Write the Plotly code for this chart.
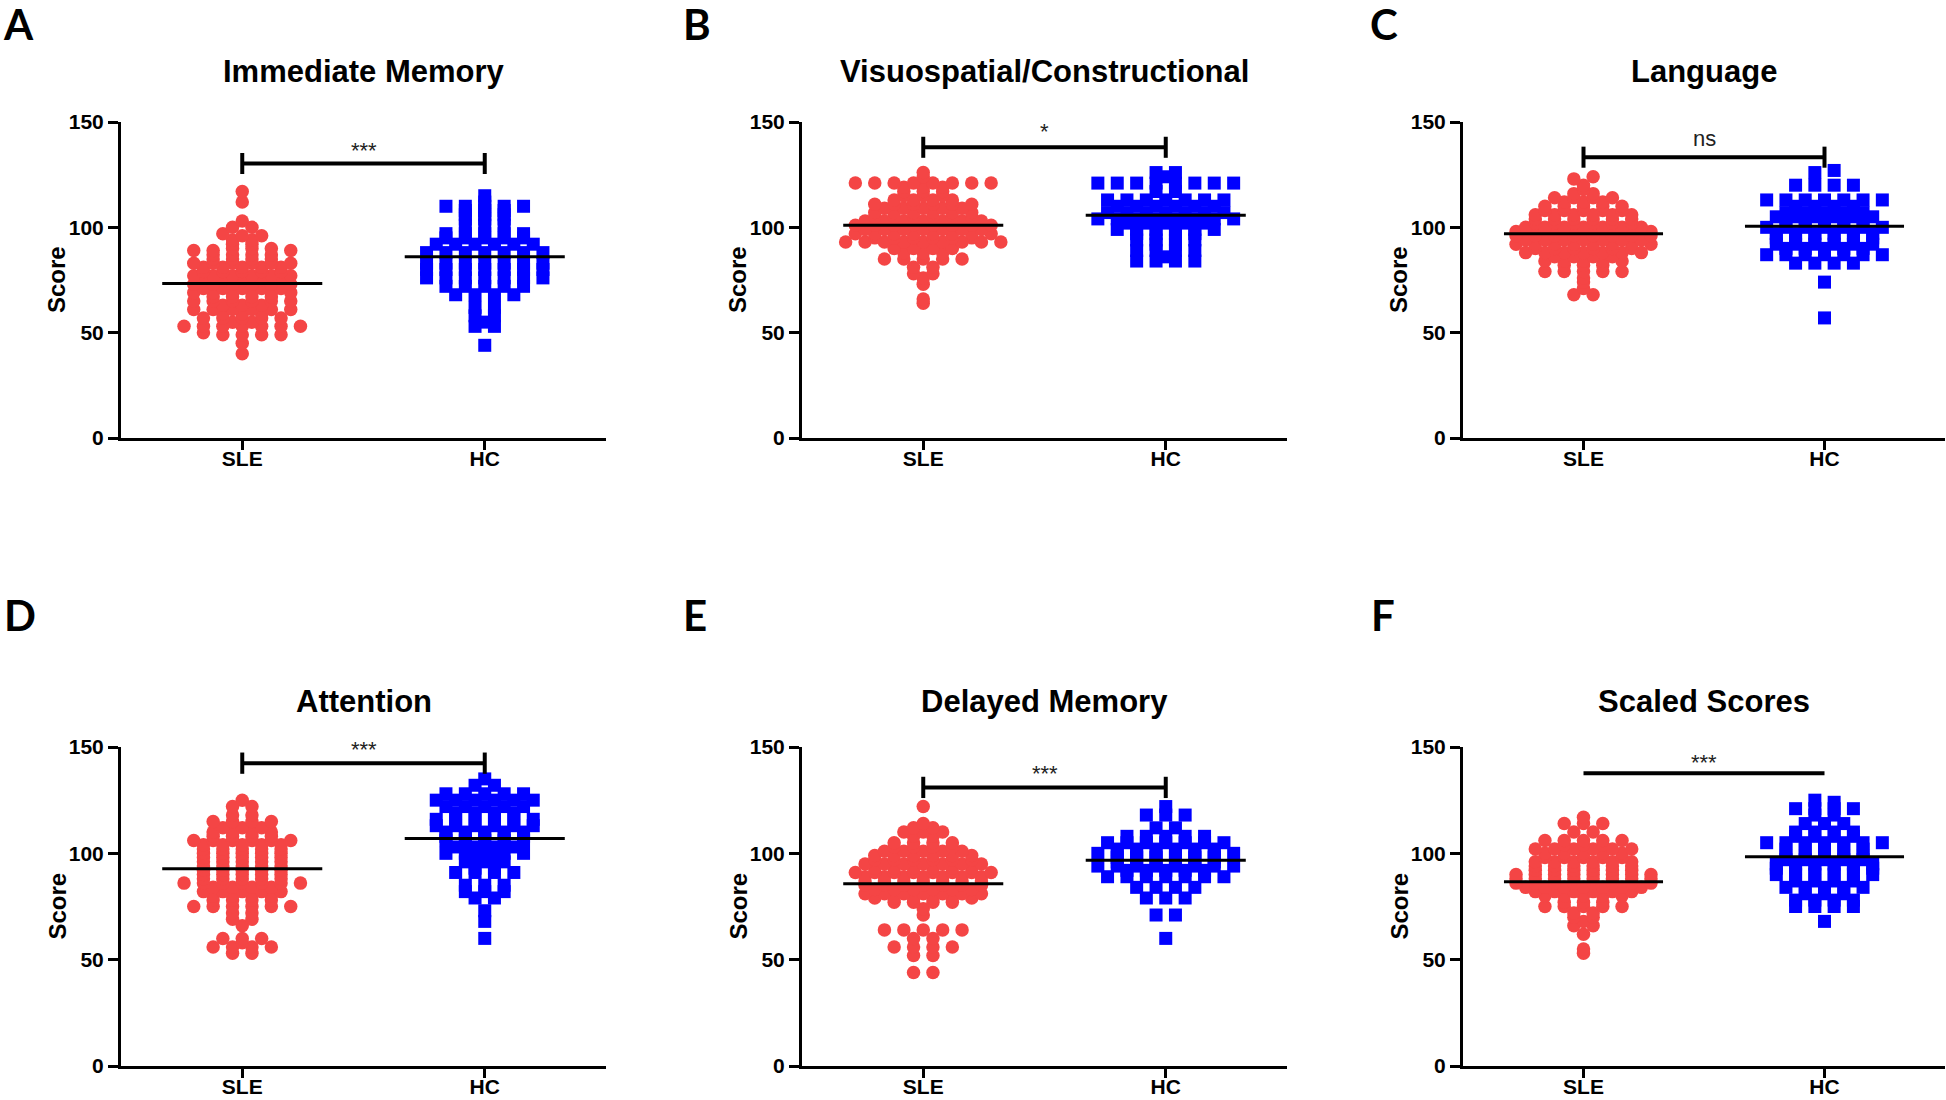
import plotly.graph_objects as go

# ---------------- data ----------------
panel_letters = ["A", "B", "C", "D", "E", "F"]
panel_titles = ["Immediate Memory", "Visuospatial/Constructional", "Language",
                "Attention", "Delayed Memory", "Scaled Scores"]
groups = ["SLE", "HC"]
y_ticks = [0, 50, 100, 150]
sig_labels = ["***", "*", "ns", "***", "***", "***"]
bracket_y = [130.3, 138, 133.3, 142.4, 131, 137.7]
sig_text_y = [136.5, 145.5, 142, 148.7, 137.7, 142.5]
bracket_caps = [True, True, True, True, True, False]
sle_means = [73.3, 101, 97, 92.8, 85.7, 86.6]
hc_means = [86, 105.7, 100.5, 107, 96.8, 98.4]

imm_sle_vals = [40, 45, 49, 50, 53, 55, 57, 59, 61, 63, 65, 67, 69, 71, 73, 75, 77, 79, 81, 83, 85, 87, 89, 90, 92, 94, 96, 97, 100, 103, 112, 117]
imm_sle_counts = [1, 1, 4, 1, 7, 2, 5, 3, 6, 3, 6, 4, 6, 5, 6, 5, 6, 5, 5, 6, 4, 4, 3, 3, 2, 2, 2, 1, 2, 1, 1, 1]
imm_hc_vals = [44, 53, 55, 58, 62, 68, 72, 76, 80, 83, 88, 92, 95, 97, 101, 104, 106, 108, 110, 112, 115]
imm_hc_counts = [1, 2, 1, 2, 2, 4, 5, 7, 7, 7, 7, 6, 5, 5, 3, 3, 3, 3, 5, 1, 1]

vis_sle_vals = [64, 66, 73, 76, 78, 81, 85, 88, 90, 93, 95, 97, 99, 101, 103, 105, 107, 109, 111, 113, 115, 117, 119, 121, 124, 126]
vis_sle_counts = [1, 1, 1, 1, 2, 2, 5, 3, 4, 9, 6, 8, 7, 8, 7, 6, 6, 5, 6, 4, 3, 3, 3, 8, 1, 1]
vis_hc_vals = [84, 86, 89, 92, 94, 97, 99, 102, 104, 107, 110, 113, 117, 121, 124, 126]
vis_hc_counts = [4, 1, 4, 2, 4, 4, 6, 5, 8, 7, 6, 7, 2, 8, 1, 2]

lang_sle_vals = [68, 71, 74, 76, 79, 82, 84, 86, 88, 90, 92, 94, 96, 98, 100, 102, 104, 106, 108, 110, 112, 114, 116, 118, 120, 123, 124]
lang_sle_counts = [2, 1, 1, 1, 5, 3, 5, 4, 7, 6, 8, 7, 8, 8, 7, 6, 6, 6, 5, 5, 3, 4, 2, 1, 1, 1, 1]
lang_hc_vals = [57, 74, 83, 87, 90, 92, 95, 97, 100, 102, 105, 107, 110, 113, 120, 126, 127]
lang_hc_counts = [1, 1, 4, 7, 5, 6, 6, 6, 7, 5, 6, 5, 4, 7, 4, 1, 1]

att_sle_vals = [53, 56, 58, 60, 66, 69, 72, 75, 78, 80, 82, 84, 86, 88, 90, 92, 94, 96, 98, 100, 102, 104, 106, 108, 110, 112, 115, 118, 122, 125]
att_sle_counts = [2, 4, 1, 3, 1, 2, 2, 6, 4, 4, 5, 4, 7, 5, 5, 5, 5, 5, 5, 5, 5, 5, 6, 4, 4, 3, 4, 2, 2, 1]
att_hc_vals = [60, 68, 73, 79, 82, 85, 91, 93, 96, 98, 100, 103, 106, 108, 110, 113, 116, 119, 122, 125, 128, 132, 135]
att_hc_counts = [1, 1, 1, 2, 3, 3, 4, 2, 3, 2, 5, 4, 5, 5, 5, 6, 6, 4, 5, 6, 5, 2, 1]

del_sle_vals = [44, 52, 56, 60, 64, 71, 74, 77, 79, 81, 83, 85, 87, 89, 91, 93, 95, 97, 99, 101, 103, 105, 108, 110, 112, 114, 122]
del_sle_counts = [2, 2, 4, 2, 5, 1, 1, 4, 6, 7, 6, 7, 7, 7, 8, 6, 7, 6, 6, 5, 4, 4, 2, 3, 2, 1, 1]
del_hc_vals = [60, 71, 79, 84, 89, 92, 94, 96, 98, 100, 102, 105, 108, 112, 118, 122]
del_hc_counts = [1, 2, 3, 4, 7, 5, 8, 6, 6, 8, 6, 7, 5, 2, 3, 1]

tot_sle_vals = [53, 55, 62, 66, 68, 70, 72, 75, 77, 80, 82, 84, 86, 88, 90, 92, 94, 96, 98, 100, 102, 104, 106, 110, 114, 117]
tot_sle_counts = [1, 1, 1, 2, 1, 2, 2, 5, 3, 5, 6, 7, 8, 8, 8, 6, 6, 6, 5, 5, 6, 3, 5, 2, 3, 1]
tot_hc_vals = [68, 75, 78, 81, 84, 87, 90, 93, 95, 97, 99, 102, 105, 108, 110, 114, 118, 121, 124, 125]
tot_hc_counts = [1, 4, 4, 3, 5, 4, 6, 6, 6, 5, 5, 5, 7, 4, 4, 3, 2, 4, 1, 1]

sle_data = [(imm_sle_vals, imm_sle_counts), (vis_sle_vals, vis_sle_counts), (lang_sle_vals, lang_sle_counts),
            (att_sle_vals, att_sle_counts), (del_sle_vals, del_sle_counts), (tot_sle_vals, tot_sle_counts)]
hc_data = [(imm_hc_vals, imm_hc_counts), (vis_hc_vals, vis_hc_counts), (lang_hc_vals, lang_hc_counts),
           (att_hc_vals, att_hc_counts), (del_hc_vals, del_hc_counts), (tot_hc_vals, tot_hc_counts)]

# ---------------- styling / layout constants ----------------
W, H = 1946, 1100
RED = "#F44545"
BLUE = "#0000FF"
COL_STEP = 0.0800      # horizontal spacing of points within a row (x units)
BIN = 1.5              # values closer than this share a row
MEAN_HALF = 0.33
CAP = 5.0
FONT = "Liberation Sans, Arial, sans-serif"

# target pixel positions on the final picture
col_px = [(121, 606), (802, 1287), (1463, 1945)]
row_px = [(122, 438), (747, 1066)]
title_py = [72, 701]
letter_px = [(18, 24), (697, 24), (1384, 24), (20, 615), (695, 615), (1383, 615)]


def paper_y(py):
    return 1 - py / H


def expand(vals, counts):
    out = []
    for v, c in zip(vals, counts):
        out += [v] * c
    return sorted(out)


def swarm(values):
    """Prism-like scatter layout: points of (nearly) equal value share a row,
    spread symmetrically around the group centre."""
    rows = []
    for v in values:
        if rows and v - rows[-1][0] < BIN:
            rows[-1].append(v)
        else:
            rows.append([v])
    xs, ys = [], []
    for ri, row in enumerate(rows):
        n = len(row)
        slots = sorted([k - (n - 1) / 2 for k in range(n)], key=lambda s: (abs(s), -s))
        vals = sorted(row, reverse=(ri % 2 == 1))
        for s, v in zip(slots, vals):
            xs.append(s * COL_STEP)
            ys.append(v)
    return xs, ys


fig = go.Figure()
annotations = []
layout_axes = {}

for i in range(6):
    r, c = divmod(i, 3)
    xs = "" if i == 0 else str(i + 1)
    xref, yref = "x" + xs, "y" + xs
    x0p, x1p = col_px[c]
    y0p, y1p = row_px[r]
    layout_axes["xaxis" + xs] = dict(
        domain=[x0p / W, x1p / W], anchor=yref, range=[-0.5, 1.5], automargin=False,
        tickvals=[0, 1], ticktext=groups, ticks="outside", ticklen=9, tickwidth=3,
        ticklabelstandoff=-9,
        tickcolor="black", showline=True, linecolor="black", linewidth=3,
        showgrid=False, zeroline=False, fixedrange=True,
        tickfont=dict(family=FONT, size=21, color="black", weight="bold"))
    layout_axes["yaxis" + xs] = dict(
        domain=[paper_y(y1p), paper_y(y0p)], anchor=xref, range=[0, 150], automargin=False,
        tickvals=y_ticks, ticks="outside", ticklen=10, tickwidth=3,
        tickcolor="black", showline=True, linecolor="black", linewidth=3,
        showgrid=False, zeroline=False, fixedrange=True,
        tickfont=dict(family=FONT, size=21, color="black", weight="bold"))

    sx, sy = swarm(expand(*sle_data[i]))
    hx, hy = swarm(expand(*hc_data[i]))
    fig.add_trace(go.Scatter(x=[0 + o for o in sx], y=sy, mode="markers",
                             xaxis=xref, yaxis=yref, cliponaxis=False,
                             marker=dict(symbol="circle", size=13.5, color=RED, line=dict(width=0))))
    fig.add_trace(go.Scatter(x=[1 + o for o in hx], y=hy, mode="markers",
                             xaxis=xref, yaxis=yref, cliponaxis=False,
                             marker=dict(symbol="square", size=13, color=BLUE, line=dict(width=0))))
    # mean lines
    fig.add_trace(go.Scatter(x=[-MEAN_HALF, MEAN_HALF, None, 1 - MEAN_HALF, 1 + MEAN_HALF],
                             y=[sle_means[i], sle_means[i], None, hc_means[i], hc_means[i]],
                             mode="lines", xaxis=xref, yaxis=yref, cliponaxis=False,
                             line=dict(color="black", width=3)))
    # significance bracket
    b = bracket_y[i]
    if bracket_caps[i]:
        bx = [0, 0, None, 0, 1, None, 1, 1]
        by = [b - CAP, b + CAP, None, b, b, None, b - CAP, b + CAP]
    else:
        bx = [0, 1]
        by = [b, b]
    fig.add_trace(go.Scatter(x=bx, y=by, mode="lines", xaxis=xref, yaxis=yref,
                             cliponaxis=False, line=dict(color="black", width=4)))
    annotations.append(dict(x=0.5, y=sig_text_y[i], xref=xref, yref=yref, text=sig_labels[i],
                            showarrow=False, xanchor="center", yanchor="middle",
                            font=dict(family=FONT, size=22, color="#222222")))
    # subplot title
    annotations.append(dict(x=(x0p + x1p) / 2 / W, y=paper_y(title_py[r]), xref="paper", yref="paper",
                            text=panel_titles[i], showarrow=False, xanchor="center", yanchor="middle",
                            font=dict(family=FONT, size=31, color="black", weight="bold")))
    # y-axis title
    annotations.append(dict(x=(x0p - 64) / W, y=paper_y((y0p + y1p) / 2), xref="paper", yref="paper",
                            text="Score", textangle=-90, showarrow=False,
                            xanchor="center", yanchor="middle",
                            font=dict(family=FONT, size=24, color="black", weight="bold")))
    # panel letter
    lx, ly = letter_px[i]
    annotations.append(dict(x=lx / W, y=paper_y(ly), xref="paper", yref="paper",
                            text=panel_letters[i], showarrow=False, xanchor="center", yanchor="middle",
                            font=dict(family="Lato, Liberation Sans, sans-serif", size=42,
                                      color="black", weight="bold")))

fig.update_layout(width=W, height=H, autosize=False,
                  margin=dict(l=0, r=0, t=0, b=0, pad=0, autoexpand=False),
                  paper_bgcolor="white", plot_bgcolor="white", showlegend=False,
                  annotations=annotations, **layout_axes)

fig.write_html("out.html", config={"displayModeBar": False},
               post_script=("document.documentElement.style.margin='0';"
                            "document.documentElement.style.overflow='hidden';"
                            "document.body.style.margin='0';"
                            "document.body.style.overflow='hidden';"))
